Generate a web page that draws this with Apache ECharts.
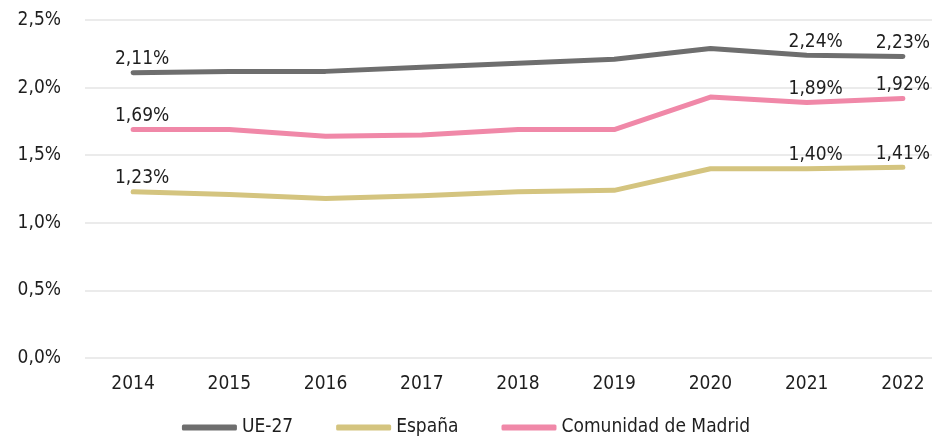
<!DOCTYPE html>
<html>
<head>
<meta charset="utf-8">
<script src="https://cdn.jsdelivr.net/npm/echarts@6/dist/echarts.min.js"></script>
<style>
  html, body { margin: 0; padding: 0; background: #fff; }
  #chart { width: 932px; height: 442px; }
</style>
</head>
<body>
<div id="chart"></div>
<script>
var years = ['2014', '2015', '2016', '2017', '2018', '2019', '2020', '2021', '2022'];
var ue27 = [2.11, 2.12, 2.12, 2.15, 2.18, 2.21, 2.29, 2.24, 2.23];
var espana = [1.23, 1.21, 1.18, 1.20, 1.23, 1.24, 1.40, 1.40, 1.41];
var madrid = [1.69, 1.69, 1.64, 1.65, 1.69, 1.69, 1.93, 1.89, 1.92];
var yTicks = [0, 0.5, 1, 1.5, 2, 2.5];
// years that carry a value label
var labelled = [0, 7, 8];

var font = "'DejaVu Sans Condensed', 'DejaVu Sans', sans-serif";
var textColor = '#1e1e1e';

function pct(v, digits){
    return v.toFixed(digits).replace('.', ',') + '%';
}

function buildData(values){
    return values.map(function(v, i){
        var show = labelled.indexOf(i) !== -1;
        return {
            value: v,
            label: {
                show: show,
                offset: [i === 8 ? 0 : 9, 0]
            }
        };
    });
}

function makeSeries(name, values, color){
    return {
        name: name,
        type: 'line',
        data: buildData(values),
        symbol: 'circle',
        symbolSize: 0,
        showSymbol: true,
        lineStyle: { width: 5, color: color, cap: 'round', join: 'round' },
        itemStyle: { color: color },
        label: {
            position: 'top',
            distance: 4,
            fontFamily: font,
            fontSize: 19,
            color: textColor,
            formatter: function(p){ return pct(p.value, 2); }
        }
    };
}

var chart = echarts.init(document.getElementById('chart'));
chart.setOption({
    animation: false,
    textStyle: { fontFamily: font },
    grid: { left: 85, top: 20, right: -19, bottom: 84, outerBoundsMode: 'none', containLabel: false },
    legend: {
        bottom: 0,
        left: 'center',
        icon: 'roundRect',
        itemWidth: 55,
        itemHeight: 6,
        itemGap: 43,
        textStyle: { fontFamily: font, fontSize: 19, color: textColor },
        data: ['UE-27', 'España', 'Comunidad de Madrid']
    },
    xAxis: {
        type: 'category',
        data: years,
        boundaryGap: true,
        axisLine: { show: false },
        axisTick: { show: false },
        axisLabel: { margin: 17, fontSize: 19, fontFamily: font, color: textColor }
    },
    yAxis: {
        type: 'value',
        min: yTicks[0],
        max: yTicks[yTicks.length - 1],
        interval: 0.5,
        axisLine: { show: false },
        axisTick: { show: false },
        splitLine: { lineStyle: { color: '#ebebeb', width: 2 } },
        axisLabel: {
            margin: 24,
            fontSize: 19,
            fontFamily: font,
            color: textColor,
            formatter: function(v){ return pct(v, 1); }
        }
    },
    series: [
        makeSeries('UE-27', ue27, '#6e6e6e'),
        makeSeries('España', espana, '#d4c47f'),
        makeSeries('Comunidad de Madrid', madrid, '#f088a8')
    ]
});
</script>
</body>
</html>
